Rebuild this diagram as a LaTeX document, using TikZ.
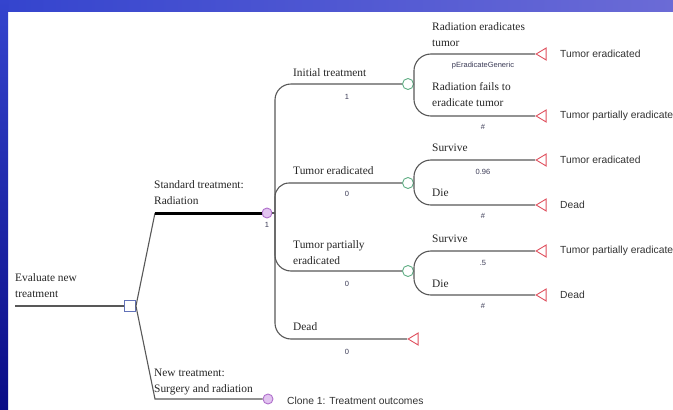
\documentclass[tikz,border=0pt]{standalone}
\usepackage{fontspec}
\setmainfont{Liberation Serif}
\setsansfont{Liberation Sans}
\usetikzlibrary{shapes.geometric}

\definecolor{branch}{HTML}{585858}
\definecolor{decblue}{HTML}{6272B8}
\definecolor{chgreen}{HTML}{5FAE84}
\definecolor{mkpurple}{HTML}{B070CC}
\definecolor{mkfill}{HTML}{E2C4F0}
\definecolor{termred}{HTML}{E0505E}
\definecolor{valtext}{HTML}{3A3A55}
\definecolor{bandleft}{HTML}{3444CE}
\definecolor{bandright}{HTML}{6B6BD6}
\definecolor{stripbottom}{HTML}{0A0C86}

\tikzset{
  edge/.style={draw=branch, line width=1.1pt},
  mainedge/.style={draw=black, line width=3pt},
  decnode/.style={rectangle, draw=decblue, fill=white, line width=0.9pt,
                  minimum size=11pt, inner sep=0pt},
  chnode/.style={circle, draw=chgreen, fill=white, line width=0.9pt,
                 minimum size=11pt, inner sep=0pt},
  mknode/.style={circle, draw=mkpurple, fill=mkfill, line width=0.9pt,
                 minimum size=10pt, inner sep=0pt},
  term/.style={isosceles triangle, isosceles triangle stretches,
               shape border rotate=180, draw=termred, fill=white,
               line width=0.9pt, minimum height=10pt, minimum width=12pt,
               inner sep=0pt, anchor=apex},
  % branch names: the base anchor sits on the last line's baseline
  blabel/.style={font=\fontsize{11.4}{15.5}\selectfont, align=left,
                 inner sep=0pt, anchor=base west, text=black!85},
  tlabel/.style={font=\sffamily\fontsize{10.3}{12}\selectfont,
                 inner sep=0pt, anchor=west, text=black!80},
  vlabel/.style={font=\sffamily\fontsize{7.5}{9}\selectfont,
                 inner sep=0pt, text=valtext},
}

\begin{document}
\begin{tikzpicture}[x=1pt, y=-1pt]
  \useasboundingbox (0,0) rectangle (673,410);
  \clip (0,0) rectangle (673,410);

  % slide frame
  \fill[white] (0,0) rectangle (673,410);
  \shade[left color=bandleft, right color=bandright] (0,0) rectangle (673,11);
  \shade[top color=bandleft, bottom color=stripbottom] (0,0) rectangle (8,410);

  % decision node and its two strategies
  \coordinate (start) at (15,306);
  \node[decnode] (root) at (130,306) {};
  \coordinate (stdcorner) at (155,213);
  \coordinate (newcorner) at (155,399);
  \node[mknode] (mk) at (267,213) {};
  \node[mknode] (clone) at (268,399) {};

  \draw[edge] (start) -- (root.west);
  \draw[edge] (root.east) -- (stdcorner);
  \draw[mainedge] (stdcorner) -- (mk.west);
  \draw[edge] (root.east) -- (newcorner) -- (clone.west);

  \node[blabel] (evl) at (15,297) {Evaluate new\\treatment};
  \node[blabel] (stdl) at (154,204) {Standard treatment:\\Radiation};
  \node[blabel] (newl) at (154,392) {New treatment:\\Surgery and radiation};
  \node[vlabel] (mkp) at (267,225) {1};
  \node[tlabel] (clonel) at (287,401) {Clone 1: Treatment outcomes};

  % Markov states
  \coordinate (bus) at (275,213);
  \draw[edge] (mk.east) -- (bus);
  \node[chnode] (c1) at (408,84) {};
  \node[chnode] (c2) at (408,183) {};
  \node[chnode] (c3) at (408,271) {};
  \node[term] (tdead) at (407,339) {};

  \draw[edge, rounded corners=16] (bus) |- (c1.west);
  \draw[edge, rounded corners=14] (bus) |- (c2.west);
  \draw[edge, rounded corners=16] (bus) |- (c3.west);
  \draw[edge, rounded corners=16] (bus) |- (tdead.apex);

  \node[blabel] (s1) at (293,76) {Initial treatment};
  \node[vlabel] (s1p) at (347,97) {1};
  \node[blabel] (s2) at (293,174) {Tumor eradicated};
  \node[vlabel] (s2p) at (347,194) {0};
  \node[blabel] (s3) at (293,264) {Tumor partially\\eradicated};
  \node[vlabel] (s3p) at (347,284) {0};
  \node[blabel] (s4) at (293,330) {Dead};
  \node[vlabel] (s4p) at (347,352) {0};

  % transitions out of each state
  \node[term] (t11) at (535,54) {};
  \node[term] (t12) at (535,116) {};
  \node[term] (t21) at (535,160) {};
  \node[term] (t22) at (535,205) {};
  \node[term] (t31) at (535,251) {};
  \node[term] (t32) at (535,295) {};

  \draw[edge, rounded corners=17] (c1.east) |- (t11.apex);
  \draw[edge, rounded corners=17] (c1.east) |- (t12.apex);
  \draw[edge, rounded corners=17] (c2.east) |- (t21.apex);
  \draw[edge, rounded corners=17] (c2.east) |- (t22.apex);
  \draw[edge, rounded corners=17] (c3.east) |- (t31.apex);
  \draw[edge, rounded corners=17] (c3.east) |- (t32.apex);

  \node[blabel] (b11) at (432,46) {Radiation eradicates\\tumor};
  \node[vlabel] (b11p) at (483,66) {pEradicateGeneric};
  \node[blabel] (b12) at (432,106) {Radiation fails to\\eradicate tumor};
  \node[vlabel] (b12p) at (483,127) {\#};
  \node[blabel] (b21) at (432,151) {Survive};
  \node[vlabel] (b21p) at (483,172) {0.96};
  \node[blabel] (b22) at (432,196) {Die};
  \node[vlabel] (b22p) at (483,216) {\#};
  \node[blabel] (b31) at (432,242) {Survive};
  \node[vlabel] (b31p) at (483,263) {.5};
  \node[blabel] (b32) at (432,287) {Die};
  \node[vlabel] (b32p) at (483,306) {\#};

  \node[tlabel] (o11) at (560,54) {Tumor eradicated};
  \node[tlabel] (o12) at (560,116) {Tumor partially eradicated};
  \node[tlabel] (o21) at (560,160) {Tumor eradicated};
  \node[tlabel] (o22) at (560,205) {Dead};
  \node[tlabel] (o31) at (560,251) {Tumor partially eradicated};
  \node[tlabel] (o32) at (560,295) {Dead};
\end{tikzpicture}
\end{document}
